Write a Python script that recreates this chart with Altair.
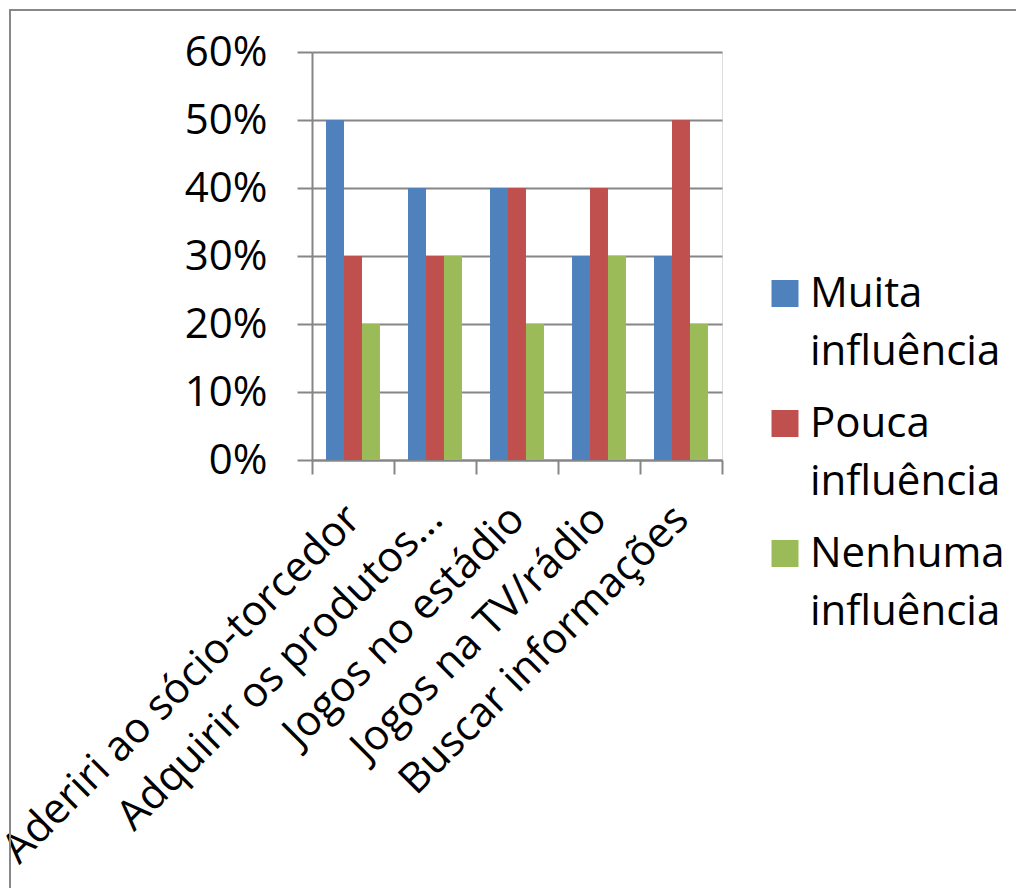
import altair as alt
import pandas as pd

categories = ["Aderiri ao sócio-torcedor", "Adquirir os produtos...", "Jogos no estádio",
              "Jogos na TV/rádio", "Buscar informações"]
series = ["Muita influência", "Pouca influência", "Nenhuma influência"]
muita = [0.50, 0.40, 0.40, 0.30, 0.30]
pouca = [0.30, 0.30, 0.40, 0.40, 0.50]
nenhuma = [0.20, 0.30, 0.20, 0.30, 0.20]
colors = ["#4F81BD", "#C0504D", "#9BBB59"]
y_ticks = [0, 0.1, 0.2, 0.3, 0.4, 0.5, 0.6]

rows = []
for vals, s in zip([muita, pouca, nenhuma], series):
    for c, v in zip(categories, vals):
        rows.append({"cat": c, "serie": s, "val": v})
df = pd.DataFrame(rows)

FONT = "Open Sans"
GRID = "#868686"

bars = alt.Chart(df).mark_bar().encode(
    x=alt.X("cat:N", sort=categories, title=None,
            scale=alt.Scale(paddingInner=0, paddingOuter=0),
            axis=alt.Axis(labelAngle=-45, labelAlign="right", labelBaseline="middle",
                          labelFontSize=42, labelFont=FONT, labelColor="black",
                          tickBand="extent", tickSize=14, tickColor=GRID, tickWidth=2,
                          domainColor=GRID, domainWidth=2, labelPadding=38,
                          labelLimit=1000, grid=False)),
    xOffset=alt.XOffset("serie:N", sort=series,
                        scale=alt.Scale(paddingInner=0, paddingOuter=0.78)),
    y=alt.Y("val:Q", title=None,
            scale=alt.Scale(domain=[0, 0.6], nice=False),
            axis=alt.Axis(values=y_ticks, format=".0%", labelFontSize=42, labelFont=FONT,
                          labelColor="black", tickSize=15, tickColor=GRID, tickWidth=2,
                          domainColor=GRID, domainWidth=2, gridColor=GRID, gridWidth=2,
                          labelPadding=30)),
    color=alt.Color("serie:N", sort=series,
                    scale=alt.Scale(domain=series, range=colors),
                    legend=alt.Legend(title=None, orient="none", legendX=452, legendY=234,
                                      symbolType="M-1,-2H1V0H-1Z", symbolSize=729,
                                      symbolStrokeWidth=0, labelFont=FONT, labelFontSize=42,
                                      labelColor="black",
                                      labelExpr="split(datum.label, ' ')",
                                      labelBaseline="alphabetic", labelOffset=4,
                                      rowPadding=30, labelLimit=1000)),
)

border = alt.Chart(pd.DataFrame({"a": [0]})).mark_rect(
    fillOpacity=0, stroke="#888888", strokeWidth=2, clip=False
).encode(x=alt.value(-302), x2=alt.value(800), y=alt.value(-42), y2=alt.value(900))

chart = alt.layer(border, bars).properties(
    width=410, height=408,
    padding={"left": 312, "top": 52, "right": 294, "bottom": 428},
    autosize=alt.AutoSizeParams(type="none"),
).configure_view(stroke=None).configure(font=FONT, style={"guide-label": {"lineHeight": 58}})

chart.save("out.html", embed_options={"renderer": "svg", "actions": False})
